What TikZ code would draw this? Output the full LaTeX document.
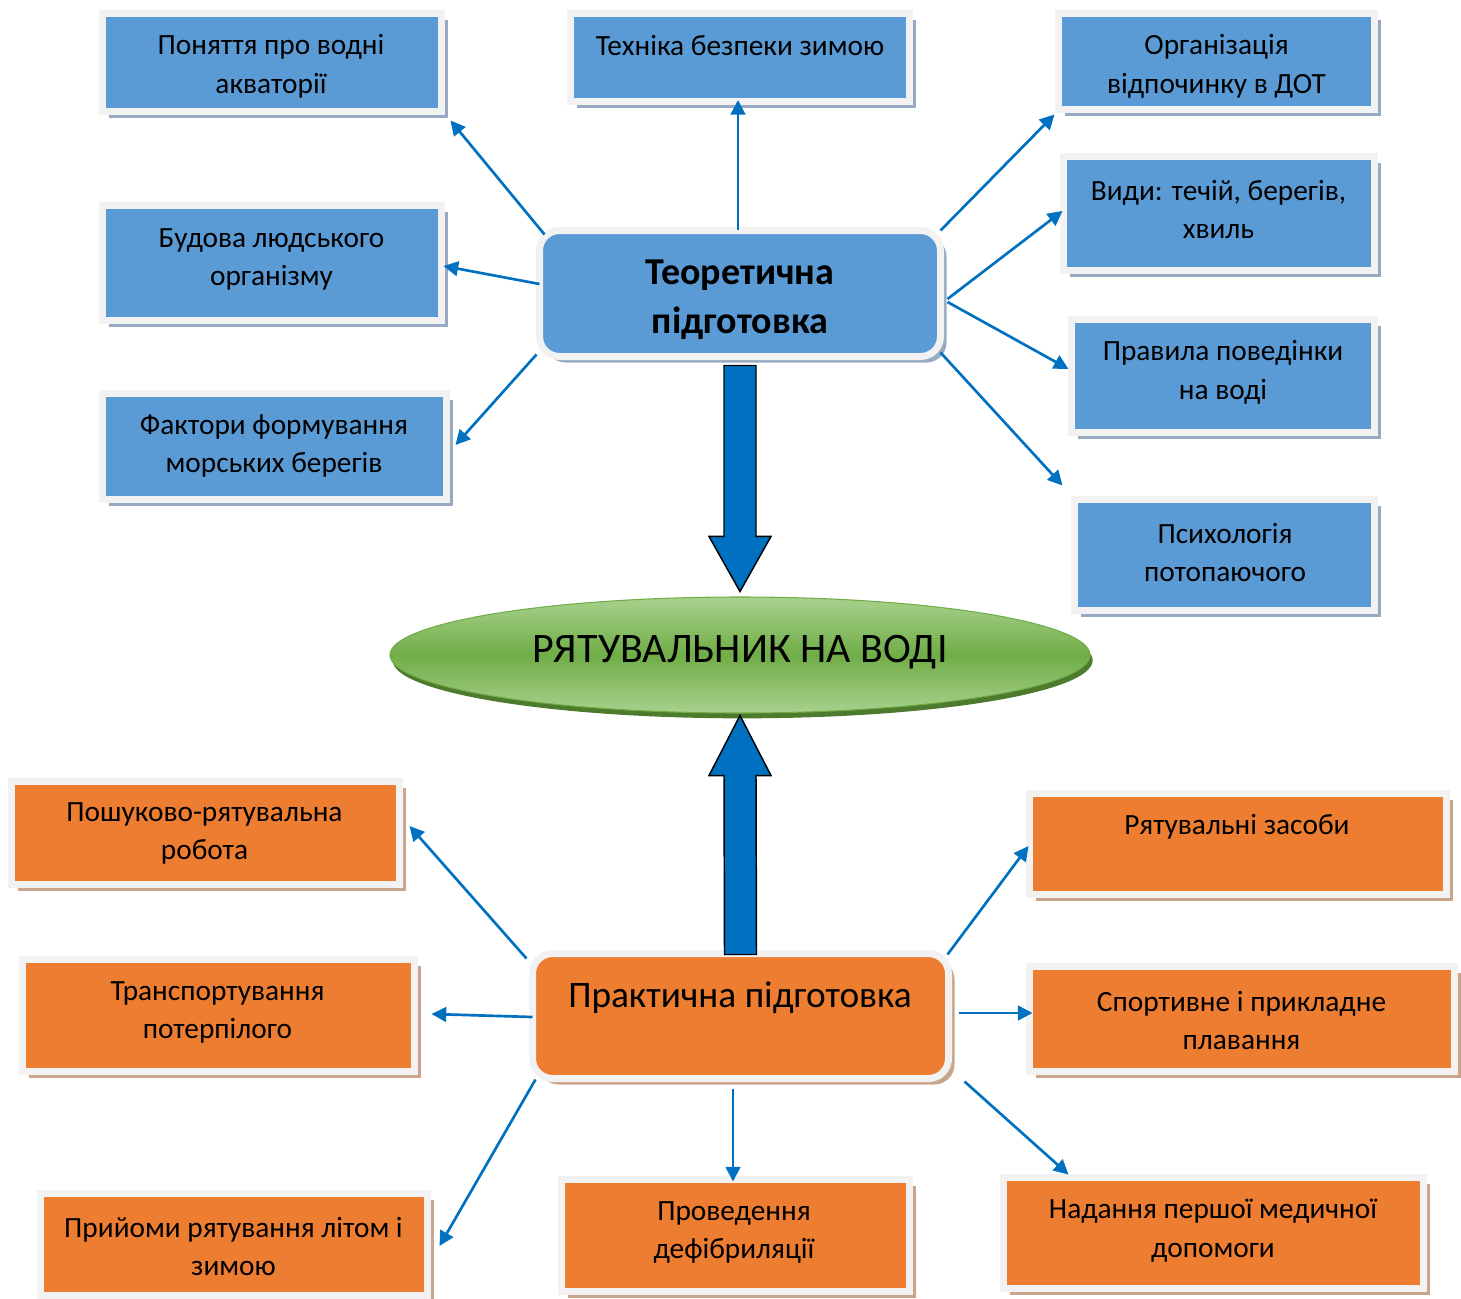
\documentclass[tikz,border=0pt]{standalone}
\usepackage{fontspec}
\setmainfont{Carlito}
\usetikzlibrary{shadows,arrows.meta,shapes.geometric}
\definecolor{bxblue}{HTML}{5B9BD5}
\definecolor{bxorange}{HTML}{ED7D31}
\definecolor{framegray}{HTML}{F2F2F2}
\definecolor{shblue}{HTML}{97AAC2}
\definecolor{shorange}{HTML}{C9A58C}
\definecolor{connblue}{HTML}{0070C0}
\definecolor{lgrn}{HTML}{A9D18E}
\definecolor{dgrn}{HTML}{70AD47}
\definecolor{shgrn}{HTML}{4E7A2E}
\newdimen\pxu \pxu=0.75pt
\tikzset{
  bx/.style={rectangle, draw=framegray, line width=5.25pt, inner sep=0pt},
  bluebox/.style={bx, fill=bxblue, drop shadow={shadow xshift=4.5pt, shadow yshift=-4.5pt, fill=shblue, opacity=1}},
  orgbox/.style={bx, fill=bxorange, drop shadow={shadow xshift=4.5pt, shadow yshift=-4.5pt, fill=shorange, opacity=1}},
  txt/.style={inner sep=0pt, align=center, font=\fontsize{22}{29}\selectfont, text=black},
  conn/.style={draw=connblue, line width=2pt, -{Triangle[length=11pt,width=11pt]}},
  bigarrow/.style={fill=connblue, draw=black, line width=1.1pt, line join=miter},
}
\begin{document}
\begin{tikzpicture}[x=0.75pt,y=-0.75pt]
\useasboundingbox (0,0) rectangle (1461,1299);

% theoretical side boxes
\node[bluebox, minimum width=339\pxu, minimum height=98\pxu] (b1) at (272,62.5) {};
\node[txt] (b1t) at (271,66.5) {Поняття про водні\\акваторії};
\node[bluebox, minimum width=339\pxu, minimum height=88\pxu] (b2) at (740,57.5) {};
\node[txt] (b2t) at (740,46) {Техніка безпеки зимою};
\node[bluebox, minimum width=316\pxu, minimum height=96\pxu] (b3) at (1216.5,61.5) {};
\node[txt] (b3t) at (1216.5,66.5) {Організація\\відпочинку в ДОТ};
\node[bluebox, minimum width=339\pxu, minimum height=115\pxu] (b4) at (272,263) {};
\node[txt] (b4t) at (271.5,259.5) {Будова людського\\організму};
\node[bluebox, minimum width=344\pxu, minimum height=106\pxu] (b5) at (274.5,446.5) {};
\node[txt] (b5t) at (274,446) {Фактори формування\\морських берегів};
\node[bluebox, minimum width=311\pxu, minimum height=114\pxu] (b6) at (1219,213.5) {};
\node[txt] (b6t) at (1218.5,209.5) {Види: течій, берегів,\\хвиль};
\node[bluebox, minimum width=303\pxu, minimum height=113\pxu] (b7) at (1223,376) {};
\node[txt] (b7t) at (1223,372.5) {Правила поведінки\\на воді};
\node[bluebox, minimum width=300\pxu, minimum height=111\pxu] (b8) at (1224.5,555) {};
\node[txt] (b8t) at (1225,552.5) {Психологія\\потопаючого};

% theoretical centre
\node[bluebox, rounded corners=15pt, minimum width=401\pxu, minimum height=126\pxu] (T) at (740,293.5) {};
\node[txt, font=\bfseries\fontsize{28.5}{37}\selectfont] (Tt) at (740,299.5) {Теоретична\\підготовка};

% practical side boxes
\node[orgbox, minimum width=388\pxu, minimum height=103\pxu] (b9) at (205.5,833) {};
\node[txt] (b9t) at (204.5,833.5) {Пошуково-рятувальна\\робота};
\node[orgbox, minimum width=392\pxu, minimum height=112\pxu] (b10) at (218.5,1015.5) {};
\node[txt] (b10t) at (217.5,1012.5) {Транспортування\\потерпілого};
\node[orgbox, minimum width=387\pxu, minimum height=102\pxu] (b11) at (234,1244.5) {};
\node[txt] (b11t) at (233.5,1246.5) {Прийоми рятування літом і\\зимою};
\node[orgbox, minimum width=348\pxu, minimum height=112\pxu] (b12) at (735.5,1235.5) {};
\node[txt] (b12t) at (734,1232.5) {Проведення\\дефібриляції};
\node[orgbox, minimum width=420\pxu, minimum height=111\pxu] (b13) at (1213.5,1233) {};
\node[txt] (b13t) at (1213,1230.5) {Надання першої медичної\\допомоги};
\node[orgbox, minimum width=417\pxu, minimum height=101\pxu] (b14) at (1238,844) {};
\node[txt] (b14t) at (1237,827) {Рятувальні засоби};
\node[orgbox, minimum width=425\pxu, minimum height=105\pxu] (b15) at (1242,1019) {};
\node[txt] (b15t) at (1241.5,1020.5) {Спортивне і прикладне\\плавання};

% practical centre
\node[orgbox, rounded corners=15pt, minimum width=416\pxu, minimum height=125\pxu] (P) at (740.5,1016) {};
\node[txt, font=\fontsize{28}{32}\selectfont] (Pt) at (740,998) {Практична підготовка};

% central ellipse
\node[ellipse, minimum width=700\pxu, minimum height=116\pxu, inner sep=0pt, draw=dgrn, line width=0.8pt,
  top color=lgrn, bottom color=lgrn, middle color=dgrn,
  drop shadow={shadow xshift=2pt, shadow yshift=-4pt, fill=shgrn, opacity=1}] (E) at (740,655) {};
\node[txt, font=\fontsize{31.5}{36}\selectfont] (Et) at (740,652) {РЯТУВАЛЬНИК НА ВОДІ};

% connectors from theoretical
\draw[conn] ([shift={(8.5,7.5)}]T.north west) -- ([shift={(5.5,5.5)}]b1.south east);
\draw[conn] ([shift={(-2,2.5)}]T.north) -- ([shift={(-2,-5)}]b2.south);
\draw[conn] ([shift={(-3.5,3.5)}]T.north east) -- ([shift={(-0.5,1.5)}]b3.south west);
\draw[conn] ([shift={(3.5,-9.5)}]T.west) -- ([shift={(-1.5,3)}]b4.east);
\draw[conn] ([shift={(0.5,-5.5)}]T.south west) -- ([shift={(5.5,-1.5)}]b5.east);
\draw[conn] ([shift={(3.5,5.5)}]T.east) -- ([shift={(2.5,-2.5)}]b6.west);
\draw[conn] ([shift={(3.5,8.5)}]T.east) -- ([shift={(0.5,-7)}]b7.west);
\draw[conn] ([shift={(-3.5,-7.5)}]T.south east) -- ([shift={(-8.5,-10.5)}]b8.north west);

% connectors from practical
\draw[conn] ([shift={(-2.5,8.5)}]P.north west) -- ([shift={(6.5,-7)}]b9.east);
\draw[conn] ([shift={(3.5,1)}]P.west) -- ([shift={(13.5,-1.5)}]b10.east);
\draw[conn] ([shift={(6.5,-2.5)}]P.south west) -- ([shift={(8.5,1.5)}]b11.east);
\draw[conn] ([shift={(-7.5,6.5)}]P.south) -- ([shift={(-2.5,5.5)}]b12.north);
\draw[conn] ([shift={(12.5,-0.5)}]P.south east) -- ([shift={(68.5,0.5)}]b13.north west);
\draw[conn] ([shift={(-4.5,4.5)}]P.north east) -- ([shift={(2.5,2)}]b14.west);
\draw[conn] ([shift={(6.5,-3)}]P.east) -- ([shift={(6.5,-6)}]b15.west);

% big block arrows
\path ([shift={(0,5.5)}]T.south) coordinate (d0);
\path ([shift={(0,-5)}]E.north) coordinate (d1);
\draw[bigarrow] ([shift={(-16,0)}]d0) -- ([shift={(16,0)}]d0) -- ([shift={(16,-55)}]d1)
  -- ([shift={(31,-55)}]d1) -- (d1) -- ([shift={(-31,-55)}]d1) -- ([shift={(-16,-55)}]d1) -- cycle;
\path ([shift={(0,2)}]E.south) coordinate (u1);
\path ([shift={(0,4.5)}]P.north) coordinate (u0);
\draw[bigarrow] ([shift={(-16,0)}]u0) -- ([shift={(-16,60)}]u1) -- ([shift={(-31,60)}]u1) -- (u1)
  -- ([shift={(31,60)}]u1) -- ([shift={(16,60)}]u1) -- ([shift={(16,0)}]u0) -- cycle;
\end{tikzpicture}
\end{document}
